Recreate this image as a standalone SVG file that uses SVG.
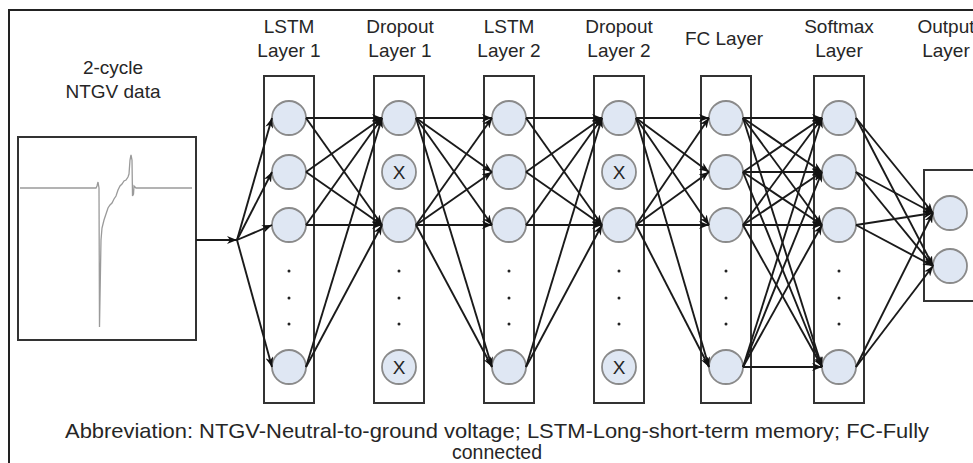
<svg xmlns="http://www.w3.org/2000/svg" width="973" height="463" viewBox="0 0 973 463">
<style>
text{font-family:"Liberation Sans",Arial,sans-serif;fill:#262626;text-anchor:middle}
.h{font-size:19px}
.cap{font-size:21px}
.box{fill:none;stroke:#333;stroke-width:2}
.n{fill:#dfe7f3;stroke:#8a8a8a;stroke-width:1.8}
.x{font-size:19px}
.dot{fill:#222}
#connectors line{stroke:#1a1a1a;stroke-width:1.9;marker-end:url(#arr)}
</style>
<defs>
<marker id="arr" viewBox="0 0 10 8" refX="10" refY="4" markerWidth="10" markerHeight="8" markerUnits="userSpaceOnUse" orient="auto">
<path d="M0,0 L10,4 L0,8 L3,4 z" fill="#111"/>
</marker>
</defs>
<rect width="973" height="463" fill="#fff"/>
<path d="M9,463 V10 H973" fill="none" stroke="#222" stroke-width="2"/>

<g id="input">
<text class="h" x="113" y="74">2-cycle</text>
<text class="h" x="113" y="98">NTGV data</text>
<rect class="box" x="18" y="137" width="178" height="203"/>
<polyline fill="none" stroke="#9a9a9a" stroke-width="1.3" points="20,188 96,188 97,186 98,182 99,188 99.5,327 101,240 102,228 104,220 106,214 108,208 110,205 112,203 114,199 116,196 118,190 120,186 122,184 124,181 126,180 128,177 129,174 130,160 131,155 132,160 132.5,196 133.5,194 134,186 136,188 192,188"/>
</g>

<g id="lstm1">
<text class="h" x="289" y="33">LSTM</text>
<text class="h" x="289" y="57">Layer 1</text>
<rect class="box" x="264" y="76" width="50" height="327"/>
<circle class="n" cx="289" cy="118" r="17"/>
<circle class="n" cx="289" cy="172" r="17"/>
<circle class="n" cx="289" cy="225" r="17"/>
<circle class="n" cx="289" cy="367" r="17"/>
<circle class="dot" cx="289" cy="271" r="1.5"/><circle class="dot" cx="289" cy="298" r="1.5"/><circle class="dot" cx="289" cy="324" r="1.5"/>
</g>

<g id="dropout1">
<text class="h" x="400" y="33">Dropout</text>
<text class="h" x="400" y="57">Layer 1</text>
<rect class="box" x="374" y="76" width="50" height="327"/>
<circle class="n" cx="399" cy="118" r="17"/>
<circle class="n" cx="399" cy="172" r="17"/>
<text class="x" x="399" y="179">X</text>
<circle class="n" cx="399" cy="225" r="17"/>
<circle class="n" cx="399" cy="367" r="17"/>
<text class="x" x="399" y="374">X</text>
<circle class="dot" cx="399" cy="271" r="1.5"/><circle class="dot" cx="399" cy="298" r="1.5"/><circle class="dot" cx="399" cy="324" r="1.5"/>
</g>

<g id="lstm2">
<text class="h" x="509" y="33">LSTM</text>
<text class="h" x="509" y="57">Layer 2</text>
<rect class="box" x="484" y="76" width="50" height="327"/>
<circle class="n" cx="509" cy="118" r="17"/>
<circle class="n" cx="509" cy="172" r="17"/>
<circle class="n" cx="509" cy="225" r="17"/>
<circle class="n" cx="509" cy="367" r="17"/>
<circle class="dot" cx="509" cy="271" r="1.5"/><circle class="dot" cx="509" cy="298" r="1.5"/><circle class="dot" cx="509" cy="324" r="1.5"/>
</g>

<g id="dropout2">
<text class="h" x="619" y="33">Dropout</text>
<text class="h" x="619" y="57">Layer 2</text>
<rect class="box" x="594" y="76" width="50" height="327"/>
<circle class="n" cx="619" cy="118" r="17"/>
<circle class="n" cx="619" cy="172" r="17"/>
<text class="x" x="619" y="179">X</text>
<circle class="n" cx="619" cy="225" r="17"/>
<circle class="n" cx="619" cy="367" r="17"/>
<text class="x" x="619" y="374">X</text>
<circle class="dot" cx="619" cy="271" r="1.5"/><circle class="dot" cx="619" cy="298" r="1.5"/><circle class="dot" cx="619" cy="324" r="1.5"/>
</g>

<g id="fc">
<text class="h" x="724" y="45">FC Layer</text>
<rect class="box" x="701" y="76" width="50" height="327"/>
<circle class="n" cx="726" cy="118" r="17"/>
<circle class="n" cx="726" cy="172" r="17"/>
<circle class="n" cx="726" cy="225" r="17"/>
<circle class="n" cx="726" cy="367" r="17"/>
<circle class="dot" cx="726" cy="271" r="1.5"/><circle class="dot" cx="726" cy="298" r="1.5"/><circle class="dot" cx="726" cy="324" r="1.5"/>
</g>

<g id="softmax">
<text class="h" x="839" y="33">Softmax</text>
<text class="h" x="839" y="57">Layer</text>
<rect class="box" x="814" y="76" width="50" height="327"/>
<circle class="n" cx="839" cy="118" r="17"/>
<circle class="n" cx="839" cy="172" r="17"/>
<circle class="n" cx="839" cy="225" r="17"/>
<circle class="n" cx="839" cy="367" r="17"/>
<circle class="dot" cx="839" cy="271" r="1.5"/><circle class="dot" cx="839" cy="298" r="1.5"/><circle class="dot" cx="839" cy="324" r="1.5"/>
</g>

<g id="output">
<text class="h" x="946" y="33">Output</text>
<text class="h" x="946" y="57">Layer</text>
<rect class="box" x="924" y="170" width="52" height="131"/>
<circle class="n" cx="950" cy="213" r="17"/>
<circle class="n" cx="950" cy="266" r="17"/>
</g>

<g id="connectors">
<line x1="196" y1="240" x2="237" y2="240"/>
<line x1="237" y1="240" x2="272" y2="118"/>
<line x1="237" y1="240" x2="272" y2="172"/>
<line x1="237" y1="240" x2="272" y2="225"/>
<line x1="237" y1="240" x2="272" y2="367"/>

<line x1="306" y1="118" x2="382" y2="118"/>
<line x1="306" y1="118" x2="382" y2="225"/>
<line x1="306" y1="172" x2="382" y2="118"/>
<line x1="306" y1="172" x2="382" y2="225"/>
<line x1="306" y1="225" x2="382" y2="118"/>
<line x1="306" y1="225" x2="382" y2="225"/>
<line x1="306" y1="367" x2="382" y2="118"/>
<line x1="306" y1="367" x2="382" y2="225"/>

<line x1="416" y1="118" x2="492" y2="118"/>
<line x1="416" y1="118" x2="492" y2="172"/>
<line x1="416" y1="118" x2="492" y2="225"/>
<line x1="416" y1="118" x2="492" y2="367"/>
<line x1="416" y1="225" x2="492" y2="118"/>
<line x1="416" y1="225" x2="492" y2="172"/>
<line x1="416" y1="225" x2="492" y2="225"/>
<line x1="416" y1="225" x2="492" y2="367"/>

<line x1="526" y1="118" x2="602" y2="118"/>
<line x1="526" y1="118" x2="602" y2="225"/>
<line x1="526" y1="172" x2="602" y2="118"/>
<line x1="526" y1="172" x2="602" y2="225"/>
<line x1="526" y1="225" x2="602" y2="118"/>
<line x1="526" y1="225" x2="602" y2="225"/>
<line x1="526" y1="367" x2="602" y2="118"/>
<line x1="526" y1="367" x2="602" y2="225"/>

<line x1="636" y1="118" x2="709" y2="118"/>
<line x1="636" y1="118" x2="709" y2="172"/>
<line x1="636" y1="118" x2="709" y2="225"/>
<line x1="636" y1="118" x2="709" y2="367"/>
<line x1="636" y1="225" x2="709" y2="118"/>
<line x1="636" y1="225" x2="709" y2="172"/>
<line x1="636" y1="225" x2="709" y2="225"/>
<line x1="636" y1="225" x2="709" y2="367"/>

<line x1="743" y1="118" x2="822" y2="118"/>
<line x1="743" y1="118" x2="822" y2="172"/>
<line x1="743" y1="118" x2="822" y2="225"/>
<line x1="743" y1="118" x2="822" y2="367"/>
<line x1="743" y1="172" x2="822" y2="118"/>
<line x1="743" y1="172" x2="822" y2="172"/>
<line x1="743" y1="172" x2="822" y2="225"/>
<line x1="743" y1="172" x2="822" y2="367"/>
<line x1="743" y1="225" x2="822" y2="118"/>
<line x1="743" y1="225" x2="822" y2="172"/>
<line x1="743" y1="225" x2="822" y2="225"/>
<line x1="743" y1="225" x2="822" y2="367"/>
<line x1="743" y1="367" x2="822" y2="118"/>
<line x1="743" y1="367" x2="822" y2="172"/>
<line x1="743" y1="367" x2="822" y2="225"/>
<line x1="743" y1="367" x2="822" y2="367"/>

<line x1="856" y1="118" x2="933" y2="213"/>
<line x1="856" y1="118" x2="933" y2="266"/>
<line x1="856" y1="172" x2="933" y2="213"/>
<line x1="856" y1="172" x2="933" y2="266"/>
<line x1="856" y1="225" x2="933" y2="213"/>
<line x1="856" y1="225" x2="933" y2="266"/>
<line x1="856" y1="367" x2="933" y2="213"/>
<line x1="856" y1="367" x2="933" y2="266"/>
</g>

<g id="caption">
<text class="cap" x="497" y="438" textLength="864" lengthAdjust="spacingAndGlyphs">Abbreviation: NTGV-Neutral-to-ground voltage; LSTM-Long-short-term memory; FC-Fully</text>
<text class="cap" x="497" y="459" textLength="90" lengthAdjust="spacingAndGlyphs">connected</text>
</g>
</svg>
